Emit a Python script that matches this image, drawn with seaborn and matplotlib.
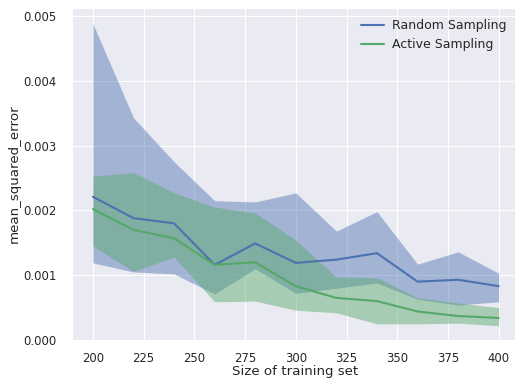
import matplotlib
matplotlib.use("Agg")
import matplotlib.pyplot as plt
import numpy as np
import pandas as pd
import seaborn as sns

# Learning curves: test MSE vs. training set size
train_sizes = [200, 220, 240, 260, 280, 300, 320, 340, 360, 380, 400]

random_mean = [0.00221, 0.00188, 0.00180, 0.00116, 0.00149, 0.00119, 0.00124, 0.00134, 0.00090, 0.00093, 0.00083]
random_upper = [0.00488, 0.00343, 0.00275, 0.00215, 0.00213, 0.00227, 0.00168, 0.00198, 0.00117, 0.00136, 0.00103]
random_lower = [0.00119, 0.00105, 0.00102, 0.00071, 0.00110, 0.00072, 0.00080, 0.00088, 0.00063, 0.00054, 0.00059]

active_mean = [0.00202, 0.00170, 0.00157, 0.00116, 0.00120, 0.00083, 0.00065, 0.00060, 0.00044, 0.00037, 0.00034]
active_upper = [0.00253, 0.00258, 0.00227, 0.00205, 0.00196, 0.00154, 0.00097, 0.00096, 0.00065, 0.00057, 0.00050]
active_lower = [0.00145, 0.00106, 0.00128, 0.00059, 0.00060, 0.00046, 0.00042, 0.00025, 0.00025, 0.00026, 0.00022]

series_names = ["Random Sampling", "Active Sampling"]

sns.set_style("darkgrid")
plt.rcParams["font.family"] = ["DejaVu Sans"]
palette = sns.color_palette("deep")
blue, green = palette[0], palette[2]

df = pd.DataFrame({
    "size": train_sizes * 2,
    "mse": random_mean + active_mean,
    "strategy": [series_names[0]] * len(train_sizes) + [series_names[1]] * len(train_sizes),
})

fig = plt.figure(figsize=(5.15, 3.81), dpi=100)
ax = fig.add_axes([72 / 515, 41 / 381, 447 / 515, 332 / 381])

ax.fill_between(train_sizes, random_lower, random_upper, color=blue, alpha=0.45, lw=0)
ax.fill_between(train_sizes, active_lower, active_upper, color=green, alpha=0.45, lw=0)

sns.lineplot(data=df, x="size", y="mse", hue="strategy", palette=[blue, green],
             linewidth=1.5, ax=ax)

ax.set_xlim(189.7, 410)
ax.set_ylim(0, 0.005123)
ax.set_xticks(np.arange(200, 401, 25))
ax.set_yticks(np.arange(0, 0.0051, 0.001))
ax.yaxis.set_major_formatter(matplotlib.ticker.FormatStrFormatter("%.3f"))
ax.tick_params(axis="x", labelsize=8.4, pad=5.5, colors=".15")
ax.tick_params(axis="y", labelsize=8.4, pad=7.5, colors=".15")

ax.set_xlabel("Size of training set", fontsize=9.6, color=".15", labelpad=0)
ax.set_ylabel("mean_squared_error", fontsize=9.6, color=".15", labelpad=2)

leg = ax.legend(loc="upper right", bbox_to_anchor=(446 / 447, 1.0), frameon=False,
                fontsize=9, handlelength=1.8, handletextpad=0.7, labelspacing=0.45)
leg.set_title(None)

fig.savefig("out.png", dpi=100)
